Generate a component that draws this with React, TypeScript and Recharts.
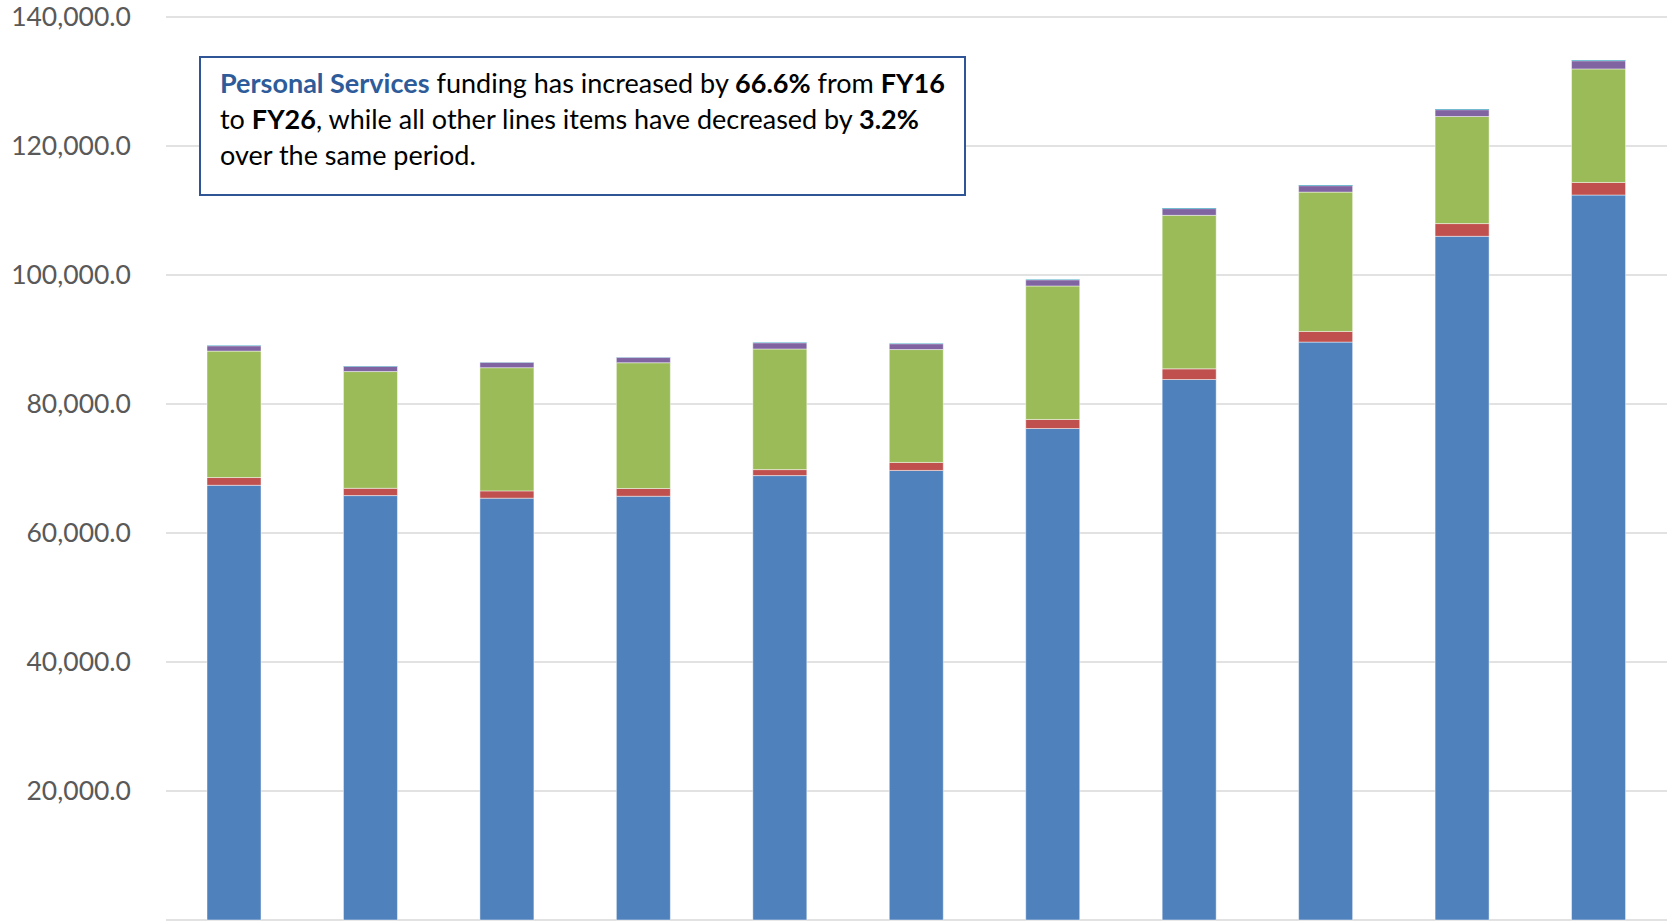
import { BarChart, Bar, XAxis, YAxis, CartesianGrid } from 'recharts'

const fiscalYears = ['FY16', 'FY17', 'FY18', 'FY19', 'FY20', 'FY21', 'FY22', 'FY23', 'FY24', 'FY25', 'FY26']
const personalServices = [67400, 65800, 65400, 65700, 68900, 69700, 76200, 83800, 89600, 106000, 112400]
const contractual = [1200, 1130, 1130, 1200, 930, 1240, 1400, 1650, 1650, 1970, 1950]
const supplies = [19600, 18100, 19100, 19500, 18700, 17500, 20700, 23800, 21600, 16600, 17600]
const equipment = [800, 800, 800, 800, 930, 880, 930, 1030, 980, 1040, 1240]
const other = [60, 60, 60, 60, 60, 60, 80, 100, 120, 120, 120]
const yTicks = [0, 20000, 40000, 60000, 80000, 100000, 120000, 140000]

const data = fiscalYears.map((fy, i) => ({
  fy,
  ps: personalServices[i],
  contractual: contractual[i],
  supplies: supplies[i],
  equipment: equipment[i],
  other: other[i],
}))

const font = 'Lato, "Open Sans", sans-serif'

function fmt(v: number) {
  if (v === 0) return '-'
  return v.toLocaleString('en-US', { minimumFractionDigits: 1, maximumFractionDigits: 1 })
}

export default function App() {
  const edge = 'rgba(255,255,255,0.45)'
  return (
    <div style={{ position: 'absolute', left: 0, top: 0, width: 1672, height: 921, background: '#fff', overflow: 'hidden' }}>
      <BarChart width={1672} height={921} data={data} margin={{ top: 17, right: 5, bottom: 1, left: 0 }} barSize={54}>
        <CartesianGrid vertical={false} stroke="#d9d9d9" strokeWidth={1.5} />
        <XAxis dataKey="fy" hide />
        <YAxis
          width={166}
          domain={[0, 140000]}
          ticks={yTicks}
          tickFormatter={fmt}
          axisLine={false}
          tickLine={false}
          tickMargin={29}
          tick={{ fontSize: 26.5, fill: '#595959', fontFamily: font }}
        />
        <Bar dataKey="ps" stackId="a" fill="#4f81bd" stroke={edge} strokeWidth={1} isAnimationActive={false} />
        <Bar dataKey="contractual" stackId="a" fill="#c0504d" stroke={edge} strokeWidth={1} isAnimationActive={false} />
        <Bar dataKey="supplies" stackId="a" fill="#9bbb59" stroke={edge} strokeWidth={1} isAnimationActive={false} />
        <Bar dataKey="equipment" stackId="a" fill="#8064a2" stroke={edge} strokeWidth={1} isAnimationActive={false} />
        <Bar dataKey="other" stackId="a" fill="#4bacc6" isAnimationActive={false} />
      </BarChart>
      <div
        style={{
          position: 'absolute',
          left: 199,
          top: 56,
          width: 767,
          height: 140,
          boxSizing: 'border-box',
          border: '2px solid #2f5597',
          background: '#fff',
          fontFamily: font,
          fontSize: 27,
          lineHeight: '36px',
          color: '#000',
          padding: '7px 0 0 19px',
          whiteSpace: 'nowrap',
        }}
      >
        <div>
          <b style={{ color: '#2e5c9a' }}>Personal Services</b> funding has increased by <b>66.6%</b> from <b>FY16</b>
        </div>
        <div>
          to <b>FY26</b>, while all other lines items have decreased by <b>3.2%</b>
        </div>
        <div>over the same period.</div>
      </div>
    </div>
  )
}
